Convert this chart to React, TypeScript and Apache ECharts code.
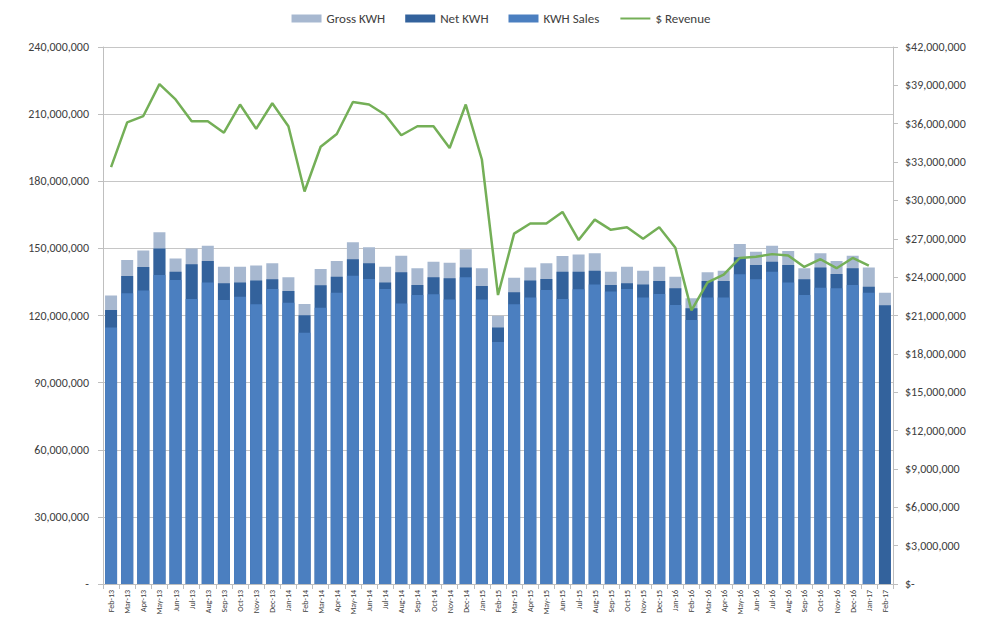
import React, { useEffect, useRef } from "react";
import * as echarts from "echarts";

const categories = [
  "Feb-13","Mar-13","Apr-13","May-13","Jun-13","Jul-13","Aug-13","Sep-13","Oct-13","Nov-13","Dec-13",
  "Jan-14","Feb-14","Mar-14","Apr-14","May-14","Jun-14","Jul-14","Aug-14","Sep-14","Oct-14","Nov-14","Dec-14",
  "Jan-15","Feb-15","Mar-15","Apr-15","May-15","Jun-15","Jul-15","Aug-15","Sep-15","Oct-15","Nov-15","Dec-15",
  "Jan-16","Feb-16","Mar-16","Apr-16","May-16","Jun-16","Jul-16","Aug-16","Sep-16","Oct-16","Nov-16","Dec-16",
  "Jan-17","Feb-17",
];

// KWH values (millions)
const grossKwhM = [
  128.9, 144.8, 149.0, 157.2, 145.5, 150.0, 151.2, 141.8, 141.8, 142.4, 143.3,
  137.1, 125.1, 140.8, 144.4, 152.7, 150.5, 141.8, 146.7, 141.1, 144.0, 143.6, 149.6,
  141.1, 119.9, 136.9, 141.5, 143.3, 146.6, 147.3, 147.8, 139.6, 141.8, 140.0, 141.8,
  137.3, 127.7, 139.3, 140.0, 152.0, 148.5, 151.2, 148.8, 141.1, 147.8, 144.4, 146.7,
  141.5, 130.2,
];
const netKwhM = [
  122.5, 137.7, 141.7, 150.0, 139.6, 142.9, 144.4, 134.4, 134.7, 135.6, 136.2,
  130.9, 120.1, 133.5, 137.3, 145.1, 143.3, 134.7, 139.3, 133.6, 137.1, 136.6, 141.5,
  133.2, 114.6, 130.4, 135.6, 136.3, 139.6, 139.6, 140.0, 133.6, 134.4, 133.9, 135.4,
  132.2, 123.2, 135.4, 135.4, 146.0, 142.6, 144.0, 142.6, 136.2, 141.5, 138.5, 141.1,
  132.9, 124.6,
];
const kwhSalesM: (number | null)[] = [
  114.6, 129.9, 131.2, 138.1, 135.9, 127.4, 134.7, 126.9, 128.4, 125.0, 131.8,
  125.7, 112.3, 123.5, 130.2, 137.8, 136.3, 131.8, 125.4, 129.2, 129.5, 127.2, 137.1,
  127.2, 108.2, 125.0, 128.0, 131.4, 127.4, 131.7, 133.9, 130.7, 131.8, 128.0, 129.6,
  124.7, 118.0, 128.1, 128.1, 138.4, 136.2, 139.6, 134.7, 129.2, 132.4, 132.2, 133.6,
  130.2, null,
];
// Revenue (millions of $)
const revenueM: (number | null)[] = [
  32.6, 36.1, 36.6, 39.1, 37.9, 36.2, 36.2, 35.3, 37.5, 35.6, 37.6,
  35.8, 30.7, 34.2, 35.2, 37.7, 37.5, 36.7, 35.1, 35.8, 35.8, 34.1, 37.5,
  33.2, 22.6, 27.4, 28.2, 28.2, 29.1, 26.9, 28.5, 27.7, 27.9, 27.0, 27.9,
  26.3, 21.4, 23.6, 24.2, 25.5, 25.6, 25.8, 25.7, 24.8, 25.4, 24.7, 25.5,
  24.9, null,
];

const M = 1000000;
const toUnits = (a: (number | null)[]) => a.map((v) => (v == null ? null : Math.round(v * M)));

const fmt = (v: number) => v.toLocaleString("en-US");

export default function App() {
  const ref = useRef<HTMLDivElement>(null);
  useEffect(() => {
    if (!ref.current) return;
    const chart = echarts.init(ref.current, null, { renderer: "svg" });
    const font = "Calibri, Carlito, 'Liberation Sans', 'Open Sans', sans-serif";
    const axisText = { color: "#404040", fontSize: 12, fontFamily: font };
    chart.setOption({
      animation: false,
      backgroundColor: "#ffffff",
      textStyle: { fontFamily: font },
      legend: {
        top: 7,
        left: "center",
        itemWidth: 30,
        itemHeight: 8,
        itemGap: 20,
        textStyle: { color: "#404040", fontSize: 13, fontFamily: font },
        data: [
          { name: "Gross KWH", icon: "rect" },
          { name: "Net KWH", icon: "rect" },
          { name: "KWH Sales", icon: "rect" },
          { name: "$ Revenue", itemStyle: { opacity: 0 } },
        ],
      },
      grid: { left: 103, right: 109, top: 47, bottom: 35, containLabel: false },
      xAxis: {
        type: "category",
        data: categories,
        axisLine: { show: true, lineStyle: { color: "#bfbfbf" } },
        axisTick: { show: true, lineStyle: { color: "#bfbfbf" } },
        axisLabel: { rotate: 90, fontSize: 8, color: "#404040", interval: 0, margin: 6, fontFamily: font },
      },
      yAxis: [
        {
          type: "value",
          min: 0,
          max: 240 * M,
          interval: 30 * M,
          axisLine: { show: true, lineStyle: { color: "#bfbfbf" } },
          axisTick: { show: true, lineStyle: { color: "#bfbfbf" } },
          splitLine: { show: true, lineStyle: { color: "#c6c6c6", width: 1 } },
          axisLabel: { ...axisText, margin: 14, formatter: (v: number) => (v === 0 ? "-" : fmt(v)) },
        },
        {
          type: "value",
          min: 0,
          max: 42 * M,
          interval: 3 * M,
          position: "right",
          axisLine: { show: true, lineStyle: { color: "#bfbfbf" } },
          axisTick: { show: true, lineStyle: { color: "#bfbfbf" } },
          splitLine: { show: false },
          axisLabel: { ...axisText, margin: 12, formatter: (v: number) => (v === 0 ? "$-" : "$" + fmt(v)) },
        },
      ],
      series: [
        {
          name: "Gross KWH",
          type: "bar",
          data: toUnits(grossKwhM),
          itemStyle: { color: "#a7b8d0" },
          barWidth: 12,
          barGap: "-100%",
          z: 1,
        },
        {
          name: "Net KWH",
          type: "bar",
          data: toUnits(netKwhM),
          itemStyle: { color: "#33629c" },
          barWidth: 12,
          barGap: "-100%",
          z: 2,
        },
        {
          name: "KWH Sales",
          type: "bar",
          data: toUnits(kwhSalesM),
          itemStyle: { color: "#4b7fc0" },
          barWidth: 12,
          barGap: "-100%",
          z: 3,
        },
        {
          name: "$ Revenue",
          type: "line",
          yAxisIndex: 1,
          data: toUnits(revenueM),
          showSymbol: false,
          symbol: "none",
          lineStyle: { color: "#74af57", width: 2.5 },
          itemStyle: { color: "#74af57" },
          z: 5,
        },
      ],
    });
    return () => chart.dispose();
  }, []);
  return (
    <div
      ref={ref}
      style={{ position: "fixed", left: 0, top: 0, width: 1002, height: 619 }}
    />
  );
}
